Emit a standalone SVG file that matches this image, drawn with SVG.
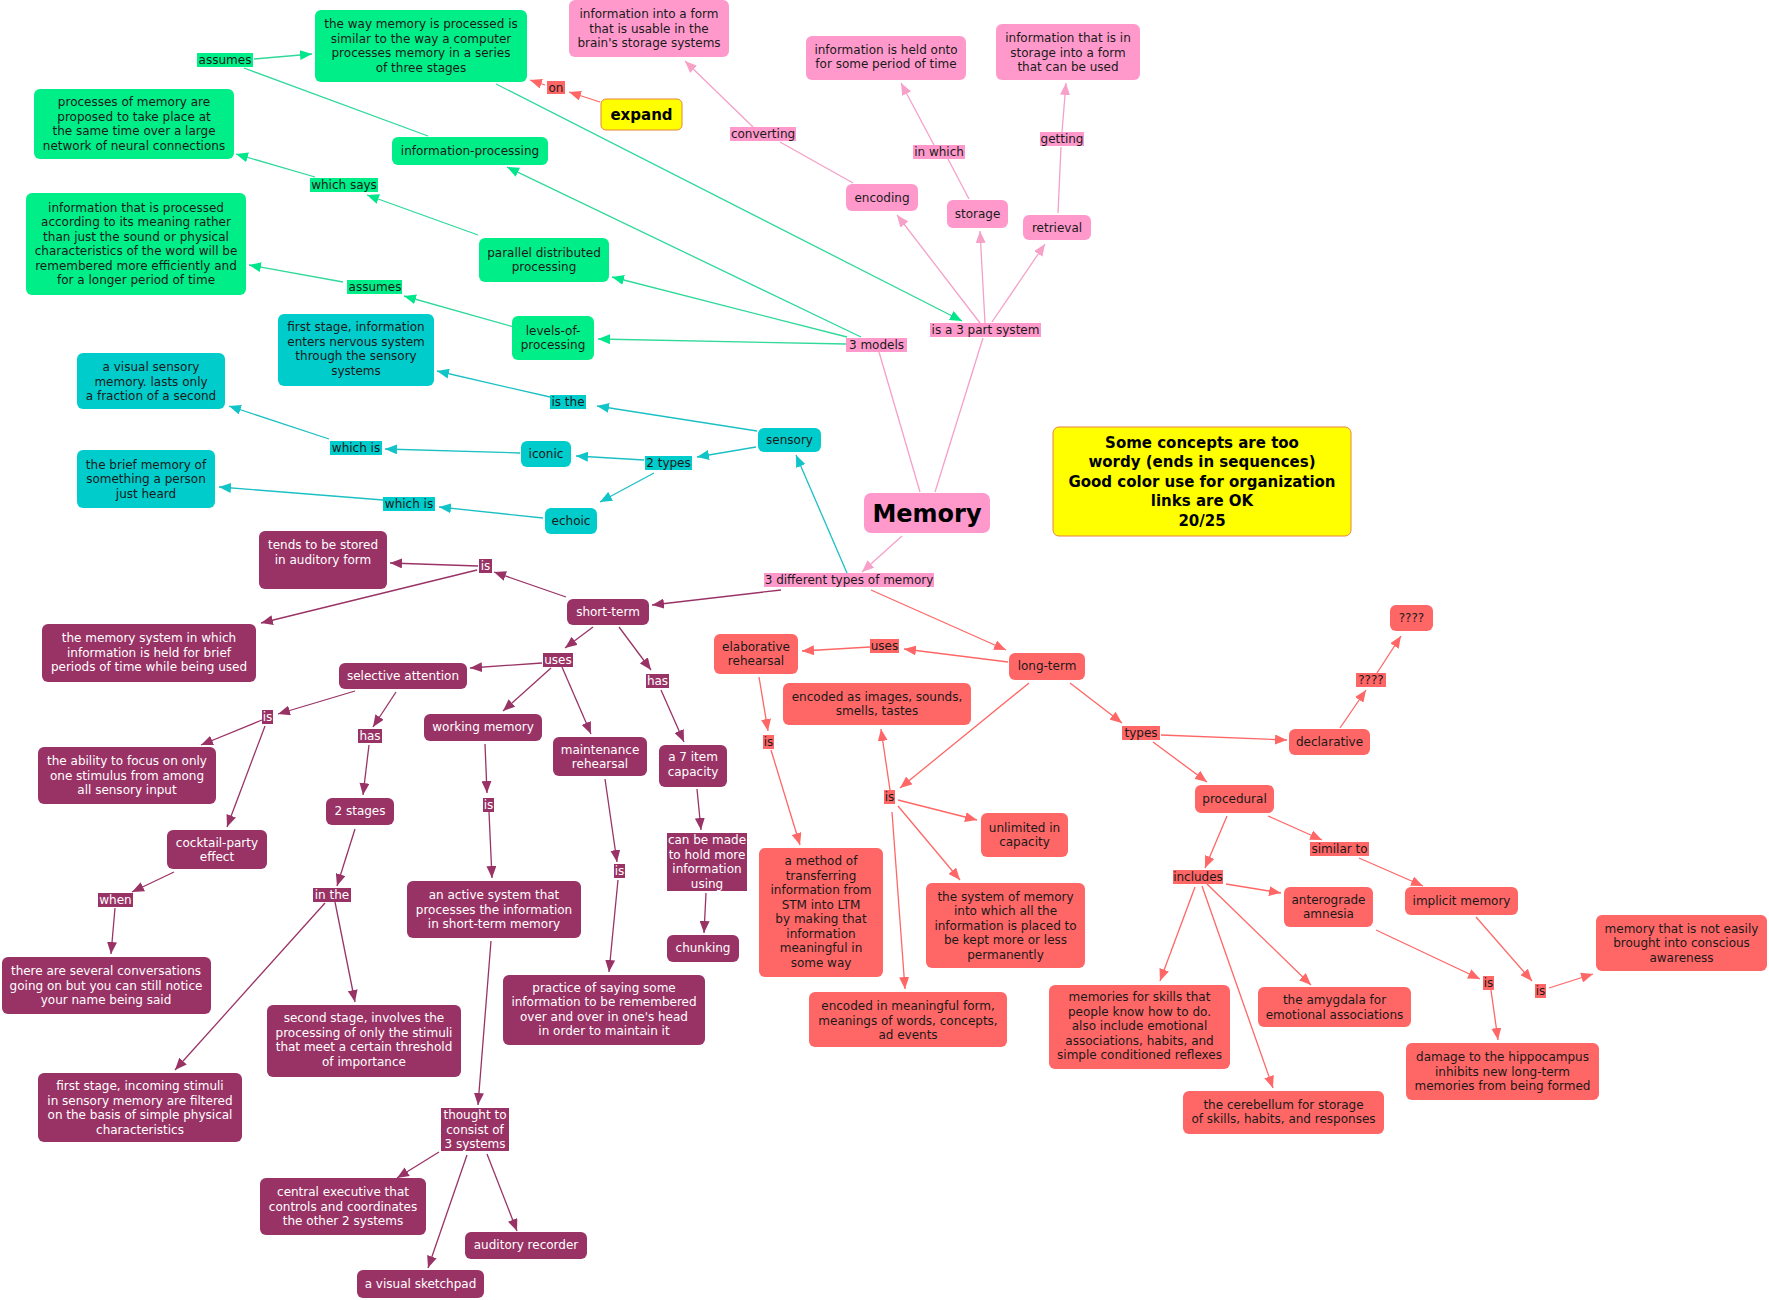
<svg xmlns="http://www.w3.org/2000/svg" width="1769" height="1300" viewBox="0 0 1769 1300">
<style>
text{font-family:"DejaVu Sans","Liberation Sans",sans-serif;font-size:12px;fill:#1a1a1a;text-anchor:middle}
.w{fill:#ffffff}
.gn{fill:#00EE88}.pn{fill:#FF99CC}.cn{fill:#00CCCC}.un{fill:#993366}.sn{fill:#FF6666}
.cl{stroke:#2ED99A;stroke-width:1.3;fill:none}
.cp{stroke:#F5A0C8;stroke-width:1.3;fill:none}
.cc{stroke:#1CC0C4;stroke-width:1.3;fill:none}
.cu{stroke:#993366;stroke-width:1.3;fill:none}
.cs{stroke:#FF6666;stroke-width:1.3;fill:none}
.ag{marker-end:url(#mg)}.ap{marker-end:url(#mp)}.ac{marker-end:url(#mc)}.au{marker-end:url(#mu)}.as{marker-end:url(#ms)}
</style>
<defs>
<marker id="mg" markerUnits="userSpaceOnUse" markerWidth="12" markerHeight="10" refX="12" refY="5" orient="auto"><path d="M0,0 L12,5 L0,10 z" fill="#00E68A"/></marker>
<marker id="mp" markerUnits="userSpaceOnUse" markerWidth="12" markerHeight="10" refX="12" refY="5" orient="auto"><path d="M0,0 L12,5 L0,10 z" fill="#F7A0C8"/></marker>
<marker id="mc" markerUnits="userSpaceOnUse" markerWidth="12" markerHeight="10" refX="12" refY="5" orient="auto"><path d="M0,0 L12,5 L0,10 z" fill="#10C4C8"/></marker>
<marker id="mu" markerUnits="userSpaceOnUse" markerWidth="12" markerHeight="10" refX="12" refY="5" orient="auto"><path d="M0,0 L12,5 L0,10 z" fill="#993366"/></marker>
<marker id="ms" markerUnits="userSpaceOnUse" markerWidth="12" markerHeight="10" refX="12" refY="5" orient="auto"><path d="M0,0 L12,5 L0,10 z" fill="#FF6666"/></marker>
</defs>
<rect width="1769" height="1300" fill="#ffffff"/>

<g id="connectors">
<!-- green -->
<line class="cl" x1="428" y1="136" x2="244" y2="68"/>
<line class="cl ag" x1="254" y1="59" x2="312" y2="54"/>
<line class="cl ag" x1="496" y1="84" x2="962" y2="321"/>
<line class="cl ag" x1="861" y1="337" x2="507" y2="167"/>
<line class="cl ag" x1="847" y1="337" x2="612" y2="277"/>
<line class="cl ag" x1="846" y1="344" x2="598" y2="339"/>
<line class="cl ag" x1="478" y1="235" x2="367" y2="195"/>
<line class="cl ag" x1="315" y1="177" x2="236" y2="154"/>
<line class="cl ag" x1="514" y1="327" x2="404" y2="296"/>
<line class="cl ag" x1="343" y1="282" x2="249" y2="265"/>
<!-- pink -->
<line class="cp" x1="920" y1="492" x2="879" y2="352"/>
<line class="cp" x1="935" y1="492" x2="983" y2="338"/>
<line class="cp ap" x1="980" y1="323" x2="897" y2="215"/>
<line class="cp ap" x1="985" y1="323" x2="980" y2="231"/>
<line class="cp ap" x1="992" y1="322" x2="1045" y2="244"/>
<line class="cp" x1="853" y1="183" x2="780" y2="142"/>
<line class="cp ap" x1="753" y1="127" x2="685" y2="61"/>
<line class="cp" x1="969" y1="199" x2="948" y2="159"/>
<line class="cp ap" x1="934" y1="145" x2="901" y2="83"/>
<line class="cp" x1="1058" y1="213" x2="1061" y2="147"/>
<line class="cp ap" x1="1062" y1="132" x2="1066" y2="83"/>
<line class="cp ap" x1="902" y1="536" x2="862" y2="572"/>
<!-- cyan -->
<line class="cc ac" x1="847" y1="573" x2="796" y2="455"/>
<line class="cc ac" x1="757" y1="431" x2="597" y2="406"/>
<line class="cc ac" x1="550" y1="397" x2="437" y2="371"/>
<line class="cc ac" x1="756" y1="447" x2="697" y2="457"/>
<line class="cc ac" x1="644" y1="460" x2="576" y2="456"/>
<line class="cc ac" x1="654" y1="473" x2="600" y2="502"/>
<line class="cc ac" x1="520" y1="453" x2="385" y2="449"/>
<line class="cc ac" x1="329" y1="439" x2="229" y2="406"/>
<line class="cc ac" x1="543" y1="518" x2="439" y2="507"/>
<line class="cc ac" x1="383" y1="500" x2="219" y2="487"/>
<!-- purple -->
<line class="cu au" x1="781" y1="590" x2="652" y2="605"/>
<line class="cu au" x1="566" y1="597" x2="494" y2="572"/>
<line class="cu au" x1="478" y1="566" x2="390" y2="563"/>
<line class="cu au" x1="477" y1="570" x2="261" y2="623"/>
<line class="cu au" x1="593" y1="627" x2="565" y2="648"/>
<line class="cu au" x1="542" y1="663" x2="470" y2="668"/>
<line class="cu au" x1="551" y1="668" x2="503" y2="711"/>
<line class="cu au" x1="562" y1="667" x2="591" y2="734"/>
<line class="cu au" x1="619" y1="627" x2="651" y2="670"/>
<line class="cu au" x1="661" y1="690" x2="684" y2="742"/>
<line class="cu au" x1="697" y1="789" x2="701" y2="830"/>
<line class="cu au" x1="706" y1="893" x2="704" y2="933"/>
<line class="cu au" x1="355" y1="691" x2="278" y2="714"/>
<line class="cu au" x1="262" y1="720" x2="201" y2="745"/>
<line class="cu au" x1="265" y1="726" x2="227" y2="827"/>
<line class="cu au" x1="396" y1="692" x2="373" y2="727"/>
<line class="cu au" x1="369" y1="745" x2="363" y2="795"/>
<line class="cu au" x1="174" y1="872" x2="132" y2="892"/>
<line class="cu au" x1="115" y1="908" x2="111" y2="954"/>
<line class="cu au" x1="355" y1="829" x2="337" y2="886"/>
<line class="cu au" x1="335" y1="902" x2="355" y2="1002"/>
<line class="cu au" x1="325" y1="903" x2="175" y2="1070"/>
<line class="cu au" x1="485" y1="744" x2="487" y2="793"/>
<line class="cu au" x1="489" y1="812" x2="492" y2="878"/>
<line class="cu au" x1="491" y1="941" x2="478" y2="1105"/>
<line class="cu au" x1="439" y1="1152" x2="397" y2="1178"/>
<line class="cu au" x1="467" y1="1155" x2="428" y2="1268"/>
<line class="cu au" x1="487" y1="1154" x2="517" y2="1231"/>
<line class="cu au" x1="605" y1="779" x2="617" y2="862"/>
<line class="cu au" x1="618" y1="880" x2="609" y2="972"/>
<!-- salmon -->
<line class="cs as" x1="871" y1="590" x2="1006" y2="650"/>
<line class="cs as" x1="1008" y1="662" x2="904" y2="649"/>
<line class="cs as" x1="870" y1="647" x2="802" y2="651"/>
<line class="cs as" x1="759" y1="677" x2="768" y2="731"/>
<line class="cs as" x1="771" y1="750" x2="800" y2="845"/>
<line class="cs as" x1="1029" y1="683" x2="900" y2="788"/>
<line class="cs as" x1="890" y1="790" x2="881" y2="729"/>
<line class="cs as" x1="898" y1="800" x2="977" y2="820"/>
<line class="cs as" x1="898" y1="806" x2="960" y2="880"/>
<line class="cs as" x1="892" y1="812" x2="905" y2="989"/>
<line class="cs as" x1="1070" y1="683" x2="1122" y2="723"/>
<line class="cs as" x1="1161" y1="735" x2="1287" y2="740"/>
<line class="cs as" x1="1153" y1="742" x2="1207" y2="782"/>
<line class="cs as" x1="1340" y1="728" x2="1366" y2="690"/>
<line class="cs as" x1="1377" y1="673" x2="1401" y2="636"/>
<line class="cs as" x1="1227" y1="816" x2="1205" y2="868"/>
<line class="cs as" x1="1268" y1="816" x2="1322" y2="840"/>
<line class="cs as" x1="1359" y1="858" x2="1423" y2="886"/>
<line class="cs as" x1="1195" y1="887" x2="1160" y2="981"/>
<line class="cs as" x1="1226" y1="884" x2="1281" y2="893"/>
<line class="cs as" x1="1207" y1="884" x2="1311" y2="985"/>
<line class="cs as" x1="1202" y1="886" x2="1273" y2="1088"/>
<line class="cs as" x1="1376" y1="930" x2="1480" y2="979"/>
<line class="cs as" x1="1491" y1="990" x2="1498" y2="1040"/>
<line class="cs as" x1="1476" y1="917" x2="1532" y2="981"/>
<line class="cs as" x1="1549" y1="988" x2="1593" y2="974"/>
<line class="cs as" x1="600" y1="102" x2="569" y2="92"/>
<line class="cs as" x1="545" y1="85" x2="530" y2="80"/>
</g>

<!-- linking phrases -->
<g id="links">
<rect class="gn" x="197" y="53" width="56" height="14"/><text x="225" y="64">assumes</text>
<rect class="gn" x="310" y="178" width="68" height="14"/><text x="344" y="189">which says</text>
<rect class="gn" x="347" y="280" width="55" height="14"/><text x="375" y="291">assumes</text>
<rect class="pn" x="730" y="127" width="66" height="14"/><text x="763" y="138">converting</text>
<rect class="pn" x="913" y="145" width="52" height="14"/><text x="939" y="156">in which</text>
<rect class="pn" x="1040" y="132" width="44" height="14"/><text x="1062" y="143">getting</text>
<rect class="pn" x="930" y="323" width="111" height="14"/><text x="985.5" y="334">is a 3 part system</text>
<rect class="pn" x="846" y="338" width="61" height="14"/><text x="876.5" y="349">3 models</text>
<rect class="pn" x="764" y="573" width="170" height="14"/><text x="849" y="584">3 different types of memory</text>
<rect class="cn" x="550" y="395" width="36" height="14"/><text x="568" y="406">is the</text>
<rect class="cn" x="645" y="456" width="47" height="14"/><text x="668.5" y="467">2 types</text>
<rect class="cn" x="330" y="441" width="52" height="14"/><text x="356" y="452">which is</text>
<rect class="cn" x="383" y="497" width="52" height="14"/><text x="409" y="508">which is</text>
<rect class="un" x="479" y="559" width="13" height="14"/><text class="w" x="485.5" y="570">is</text>
<rect class="un" x="543" y="653" width="30" height="14"/><text class="w" x="558" y="664">uses</text>
<rect class="un" x="646" y="674" width="23" height="14"/><text class="w" x="657.5" y="685">has</text>
<rect class="un" x="262" y="710" width="11" height="14"/><text class="w" x="267.5" y="721">is</text>
<rect class="un" x="358" y="729" width="24" height="14"/><text class="w" x="370" y="740">has</text>
<rect class="un" x="98" y="893" width="35" height="14"/><text class="w" x="115.5" y="904">when</text>
<rect class="un" x="313" y="888" width="38" height="14"/><text class="w" x="332" y="899">in the</text>
<rect class="un" x="483" y="798" width="11" height="14"/><text class="w" x="488.5" y="809">is</text>
<rect class="un" x="614" y="864" width="11" height="14"/><text class="w" x="619.5" y="875">is</text>
<rect class="un" x="667" y="833" width="80" height="58"/><text class="w" x="707" y="844"><tspan x="707">can be made</tspan><tspan x="707" dy="14.5">to hold more</tspan><tspan x="707" dy="14.5">information</tspan><tspan x="707" dy="14.5">using</tspan></text>
<rect class="un" x="441" y="1108" width="68" height="43"/><text class="w" x="475" y="1119"><tspan x="475">thought to</tspan><tspan x="475" dy="14.5">consist of</tspan><tspan x="475" dy="14.5">3 systems</tspan></text>
<rect class="sn" x="547" y="81" width="18" height="13"/><text x="556" y="91.5">on</text>
<rect class="sn" x="870" y="639" width="29" height="14"/><text x="884.5" y="650">uses</text>
<rect class="sn" x="763" y="735" width="11" height="14"/><text x="768.5" y="746">is</text>
<rect class="sn" x="884" y="790" width="11" height="14"/><text x="889.5" y="801">is</text>
<rect class="sn" x="1122" y="726" width="38" height="14"/><text x="1141" y="737">types</text>
<rect class="sn" x="1356" y="673" width="30" height="14"/><text x="1371" y="684">????</text>
<rect class="sn" x="1173" y="870" width="50" height="14"/><text x="1198" y="881">includes</text>
<rect class="sn" x="1310" y="842" width="59" height="14"/><text x="1339.5" y="853">similar to</text>
<rect class="sn" x="1483" y="976" width="11" height="14"/><text x="1488.5" y="987">is</text>
<rect class="sn" x="1535" y="984" width="11" height="14"/><text x="1540.5" y="995">is</text>
</g>

<!-- green nodes -->
<g id="n-way-memory"><rect class="gn" x="315" y="10" width="212" height="72" rx="6"/><text x="421" y="28.25"><tspan x="421">the way memory is processed is</tspan><tspan x="421" dy="14.5">similar to the way a computer</tspan><tspan x="421" dy="14.5">processes memory in a series</tspan><tspan x="421" dy="14.5">of three stages</tspan></text></g>
<g id="n-processes"><rect class="gn" x="34" y="89" width="200" height="70" rx="6"/><text x="134" y="106.25"><tspan x="134">processes of memory are</tspan><tspan x="134" dy="14.5">proposed to take place at</tspan><tspan x="134" dy="14.5">the same time over a large</tspan><tspan x="134" dy="14.5">network of neural connections</tspan></text></g>
<g id="n-info-processing"><rect class="gn" x="392" y="137" width="156" height="28" rx="6"/><text x="470" y="155">information-processing</text></g>
<g id="n-info-processed"><rect class="gn" x="26" y="193" width="220" height="102" rx="6"/><text x="136" y="211.75"><tspan x="136">information that is processed</tspan><tspan x="136" dy="14.5">according to its meaning rather</tspan><tspan x="136" dy="14.5">than just the sound or physical</tspan><tspan x="136" dy="14.5">characteristics of the word will be</tspan><tspan x="136" dy="14.5">remembered more efficiently and</tspan><tspan x="136" dy="14.5">for a longer period of time</tspan></text></g>
<g id="n-parallel"><rect class="gn" x="479" y="238" width="130" height="44" rx="6"/><text x="544" y="256.75"><tspan x="544">parallel distributed</tspan><tspan x="544" dy="14.5">processing</tspan></text></g>
<g id="n-levels"><rect class="gn" x="512" y="316" width="82" height="44" rx="6"/><text x="553" y="334.75"><tspan x="553">levels-of-</tspan><tspan x="553" dy="14.5">processing</tspan></text></g>

<!-- pink nodes -->
<g id="n-memory"><rect class="pn" x="864" y="493" width="126" height="40" rx="7"/><text x="927" y="521.5" style="font-size:24px;font-weight:bold;fill:#000">Memory</text></g>
<g id="n-info-form"><rect class="pn" x="569" y="0" width="160" height="57" rx="6"/><text x="649" y="18"><tspan x="649">information into a form</tspan><tspan x="649" dy="14.5">that is usable in the</tspan><tspan x="649" dy="14.5">brain's storage systems</tspan></text></g>
<g id="n-held"><rect class="pn" x="806" y="36" width="160" height="44" rx="6"/><text x="886" y="53.75"><tspan x="886">information is held onto</tspan><tspan x="886" dy="14.5">for some period of time</tspan></text></g>
<g id="n-in-storage"><rect class="pn" x="996" y="24" width="144" height="56" rx="6"/><text x="1068" y="42"><tspan x="1068">information that is in</tspan><tspan x="1068" dy="14.5">storage into a form</tspan><tspan x="1068" dy="14.5">that can be used</tspan></text></g>
<g id="n-encoding"><rect class="pn" x="846" y="184" width="72" height="27" rx="6"/><text x="882" y="201.5">encoding</text></g>
<g id="n-storage"><rect class="pn" x="947" y="200" width="61" height="28" rx="6"/><text x="977.5" y="218">storage</text></g>
<g id="n-retrieval"><rect class="pn" x="1023" y="215" width="68" height="25" rx="6"/><text x="1057" y="232">retrieval</text></g>

<!-- cyan nodes -->
<g id="n-sensory"><rect class="cn" x="758" y="428" width="63" height="24" rx="6"/><text x="789.5" y="444">sensory</text></g>
<g id="n-first-stage-sensory"><rect class="cn" x="278" y="314" width="156" height="72" rx="6"/><text x="356" y="331.25"><tspan x="356">first stage, information</tspan><tspan x="356" dy="14.5">enters nervous system</tspan><tspan x="356" dy="14.5">through the sensory</tspan><tspan x="356" dy="14.5">systems</tspan></text></g>
<g id="n-visual-sensory"><rect class="cn" x="77" y="353" width="148" height="56" rx="6"/><text x="151" y="371"><tspan x="151">a visual sensory</tspan><tspan x="151" dy="14.5">memory. lasts only</tspan><tspan x="151" dy="14.5">a fraction of a second</tspan></text></g>
<g id="n-iconic"><rect class="cn" x="521" y="441" width="50" height="26" rx="6"/><text x="546" y="458">iconic</text></g>
<g id="n-brief"><rect class="cn" x="77" y="450" width="138" height="58" rx="6"/><text x="146" y="468.5"><tspan x="146">the brief memory of</tspan><tspan x="146" dy="14.5">something a person</tspan><tspan x="146" dy="14.5">just heard</tspan></text></g>
<g id="n-echoic"><rect class="cn" x="545" y="508" width="52" height="26" rx="6"/><text x="571" y="525">echoic</text></g>

<!-- purple nodes -->
<g id="n-short-term"><rect class="un" x="567" y="599" width="82" height="26" rx="6"/><text class="w" x="608" y="616">short-term</text></g>
<g id="n-tends"><rect class="un" x="259" y="531" width="128" height="58" rx="6"/><text class="w" x="323" y="549"><tspan x="323">tends to be stored</tspan><tspan x="323" dy="14.5">in auditory form</tspan></text></g>
<g id="n-memory-system"><rect class="un" x="42" y="624" width="214" height="58" rx="6"/><text class="w" x="149" y="642"><tspan x="149">the memory system in which</tspan><tspan x="149" dy="14.5">information is held for brief</tspan><tspan x="149" dy="14.5">periods of time while being used</tspan></text></g>
<g id="n-selective"><rect class="un" x="339" y="663" width="128" height="26" rx="6"/><text class="w" x="403" y="680">selective attention</text></g>
<g id="n-working"><rect class="un" x="424" y="714" width="118" height="27" rx="6"/><text class="w" x="483" y="731">working memory</text></g>
<g id="n-maintenance"><rect class="un" x="553" y="737" width="94" height="39" rx="6"/><text class="w" x="600" y="753.75"><tspan x="600">maintenance</tspan><tspan x="600" dy="14.5">rehearsal</tspan></text></g>
<g id="n-7item"><rect class="un" x="659" y="745" width="68" height="42" rx="6"/><text class="w" x="693" y="761.25"><tspan x="693">a 7 item</tspan><tspan x="693" dy="14.5">capacity</tspan></text></g>
<g id="n-chunking"><rect class="un" x="667" y="935" width="72" height="27" rx="6"/><text class="w" x="703" y="952">chunking</text></g>
<g id="n-ability"><rect class="un" x="38" y="747" width="178" height="57" rx="6"/><text class="w" x="127" y="765"><tspan x="127">the ability to focus on only</tspan><tspan x="127" dy="14.5">one stimulus from among</tspan><tspan x="127" dy="14.5">all sensory input</tspan></text></g>
<g id="n-cocktail"><rect class="un" x="167" y="830" width="100" height="39" rx="6"/><text class="w" x="217" y="846.75"><tspan x="217">cocktail-party</tspan><tspan x="217" dy="14.5">effect</tspan></text></g>
<g id="n-2stages"><rect class="un" x="326" y="798" width="68" height="27" rx="6"/><text class="w" x="360" y="815">2 stages</text></g>
<g id="n-active"><rect class="un" x="407" y="881" width="174" height="57" rx="6"/><text class="w" x="494" y="899"><tspan x="494">an active system that</tspan><tspan x="494" dy="14.5">processes the information</tspan><tspan x="494" dy="14.5">in short-term memory</tspan></text></g>
<g id="n-practice"><rect class="un" x="503" y="975" width="202" height="70" rx="6"/><text class="w" x="604" y="991.75"><tspan x="604">practice of saying some</tspan><tspan x="604" dy="14.5">information to be remembered</tspan><tspan x="604" dy="14.5">over and over in one's head</tspan><tspan x="604" dy="14.5">in order to maintain it</tspan></text></g>
<g id="n-several"><rect class="un" x="2" y="957" width="209" height="57" rx="6"/><text class="w" x="106" y="975"><tspan x="106">there are several conversations</tspan><tspan x="106" dy="14.5">going on but you can still notice</tspan><tspan x="106" dy="14.5">your name being said</tspan></text></g>
<g id="n-second-stage"><rect class="un" x="267" y="1005" width="194" height="72" rx="6"/><text class="w" x="364" y="1022.25"><tspan x="364">second stage, involves the</tspan><tspan x="364" dy="14.5">processing of only the stimuli</tspan><tspan x="364" dy="14.5">that meet a certain threshold</tspan><tspan x="364" dy="14.5">of importance</tspan></text></g>
<g id="n-first-stage-incoming"><rect class="un" x="38" y="1073" width="204" height="69" rx="6"/><text class="w" x="140" y="1090.25"><tspan x="140">first stage, incoming stimuli</tspan><tspan x="140" dy="14.5">in sensory memory are filtered</tspan><tspan x="140" dy="14.5">on the basis of simple physical</tspan><tspan x="140" dy="14.5">characteristics</tspan></text></g>
<g id="n-central"><rect class="un" x="260" y="1178" width="166" height="57" rx="6"/><text class="w" x="343" y="1196"><tspan x="343">central executive that</tspan><tspan x="343" dy="14.5">controls and coordinates</tspan><tspan x="343" dy="14.5">the other 2 systems</tspan></text></g>
<g id="n-sketchpad"><rect class="un" x="357" y="1270" width="127" height="28" rx="6"/><text class="w" x="420.5" y="1288">a visual sketchpad</text></g>
<g id="n-auditory"><rect class="un" x="465" y="1232" width="122" height="27" rx="6"/><text class="w" x="526" y="1249">auditory recorder</text></g>

<!-- salmon nodes -->
<g id="n-long-term"><rect class="sn" x="1009" y="653" width="76" height="27" rx="6"/><text x="1047" y="670">long-term</text></g>
<g id="n-elaborative"><rect class="sn" x="714" y="634" width="84" height="40" rx="6"/><text x="756" y="650.75"><tspan x="756">elaborative</tspan><tspan x="756" dy="14.5">rehearsal</tspan></text></g>
<g id="n-encoded-images"><rect class="sn" x="783" y="683" width="188" height="42" rx="6"/><text x="877" y="700.75"><tspan x="877">encoded as images, sounds,</tspan><tspan x="877" dy="14.5">smells, tastes</tspan></text></g>
<g id="n-method"><rect class="sn" x="759" y="848" width="124" height="129" rx="6"/><text x="821" y="865.25"><tspan x="821">a method of</tspan><tspan x="821" dy="14.5">transferring</tspan><tspan x="821" dy="14.5">information from</tspan><tspan x="821" dy="14.5">STM into LTM</tspan><tspan x="821" dy="14.5">by making that</tspan><tspan x="821" dy="14.5">information</tspan><tspan x="821" dy="14.5">meaningful in</tspan><tspan x="821" dy="14.5">some way</tspan></text></g>
<g id="n-unlimited"><rect class="sn" x="981" y="813" width="87" height="44" rx="6"/><text x="1024.5" y="831.75"><tspan x="1024.5">unlimited in</tspan><tspan x="1024.5" dy="14.5">capacity</tspan></text></g>
<g id="n-system"><rect class="sn" x="926" y="883" width="159" height="85" rx="6"/><text x="1005.5" y="900.5"><tspan x="1005.5">the system of memory</tspan><tspan x="1005.5" dy="14.5">into which all the</tspan><tspan x="1005.5" dy="14.5">information is placed to</tspan><tspan x="1005.5" dy="14.5">be kept more or less</tspan><tspan x="1005.5" dy="14.5">permanently</tspan></text></g>
<g id="n-encoded-meaningful"><rect class="sn" x="809" y="992" width="198" height="55" rx="6"/><text x="908" y="1010"><tspan x="908">encoded in meaningful form,</tspan><tspan x="908" dy="14.5">meanings of words, concepts,</tspan><tspan x="908" dy="14.5">ad events</tspan></text></g>
<g id="n-declarative"><rect class="sn" x="1289" y="729" width="81" height="26" rx="6"/><text x="1329.5" y="746">declarative</text></g>
<g id="n-unknown"><rect class="sn" x="1390" y="605" width="43" height="26" rx="6"/><text x="1411.5" y="622">????</text></g>
<g id="n-procedural"><rect class="sn" x="1195" y="785" width="79" height="28" rx="6"/><text x="1234.5" y="803">procedural</text></g>
<g id="n-skills"><rect class="sn" x="1049" y="985" width="181" height="84" rx="6"/><text x="1139.5" y="1001"><tspan x="1139.5">memories for skills that</tspan><tspan x="1139.5" dy="14.5">people know how to do.</tspan><tspan x="1139.5" dy="14.5">also include emotional</tspan><tspan x="1139.5" dy="14.5">associations, habits, and</tspan><tspan x="1139.5" dy="14.5">simple conditioned reflexes</tspan></text></g>
<g id="n-anterograde"><rect class="sn" x="1284" y="887" width="89" height="40" rx="6"/><text x="1328.5" y="903.75"><tspan x="1328.5">anterograde</tspan><tspan x="1328.5" dy="14.5">amnesia</tspan></text></g>
<g id="n-implicit"><rect class="sn" x="1405" y="887" width="113" height="28" rx="6"/><text x="1461.5" y="905">implicit memory</text></g>
<g id="n-not-easily"><rect class="sn" x="1596" y="915" width="171" height="56" rx="6"/><text x="1681.5" y="932.5"><tspan x="1681.5">memory that is not easily</tspan><tspan x="1681.5" dy="14.5">brought into conscious</tspan><tspan x="1681.5" dy="14.5">awareness</tspan></text></g>
<g id="n-amygdala"><rect class="sn" x="1258" y="987" width="153" height="40" rx="6"/><text x="1334.5" y="1004.25"><tspan x="1334.5">the amygdala for</tspan><tspan x="1334.5" dy="14.5">emotional associations</tspan></text></g>
<g id="n-cerebellum"><rect class="sn" x="1183" y="1091" width="201" height="43" rx="6"/><text x="1283.5" y="1108.75"><tspan x="1283.5">the cerebellum for storage</tspan><tspan x="1283.5" dy="14.5">of skills, habits, and responses</tspan></text></g>
<g id="n-damage"><rect class="sn" x="1406" y="1043" width="193" height="57" rx="6"/><text x="1502.5" y="1061"><tspan x="1502.5">damage to the hippocampus</tspan><tspan x="1502.5" dy="14.5">inhibits new long-term</tspan><tspan x="1502.5" dy="14.5">memories from being formed</tspan></text></g>

<!-- yellow nodes -->
<g id="n-expand"><rect x="601" y="99" width="81" height="31" rx="5" fill="#FFFF00" stroke="#E8843C" stroke-width="1"/><text x="641.5" y="119.5" style="font-size:15px;font-weight:bold;fill:#000">expand</text></g>
<g id="n-comment"><rect x="1053" y="427" width="298" height="109" rx="6" fill="#FFFF00" stroke="#E8843C" stroke-width="1"/><text x="1202" y="447.5" style="font-size:15px;font-weight:bold;fill:#000"><tspan x="1202">Some concepts are too</tspan><tspan x="1202" dy="19.5">wordy (ends in sequences)</tspan><tspan x="1202" dy="19.5">Good color use for organization</tspan><tspan x="1202" dy="19.5">links are OK</tspan><tspan x="1202" dy="19.5">20/25</tspan></text></g>
</svg>
